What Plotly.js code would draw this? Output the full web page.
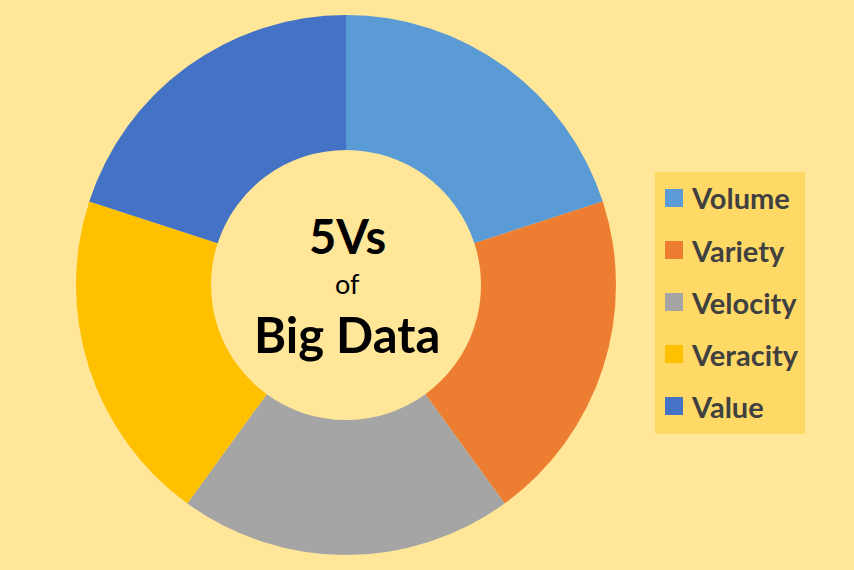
<!DOCTYPE html>
<html>
<head>
<meta charset="utf-8">
<script src="https://cdn.plot.ly/plotly-3.0.1.min.js"></script>
<style>html,body{margin:0;padding:0;background:#FFE699;}#chart{width:854px;height:570px;}</style>
</head>
<body>
<div id="chart"></div>
<script>
const labels = ["Volume", "Variety", "Velocity", "Veracity", "Value"];
const values = [20, 20, 20, 20, 20];
const colors = ["#5B9BD5", "#ED7D31", "#A5A5A5", "#FFC000", "#4472C4"];
const centerLines = ["5Vs", "of", "Big Data"];

const W = 854, H = 570;
const fontFam = "Lato, 'Open Sans', 'Liberation Sans', sans-serif";

const trace = {
  type: "pie",
  labels: labels,
  values: values,
  marker: {colors: colors, line: {width: 0}},
  hole: 0.5,
  sort: false,
  direction: "clockwise",
  rotation: 0,
  textinfo: "none",
  hoverinfo: "label",
  showlegend: false,
  domain: {x: [76 / W, 616 / W], y: [15 / H, 555 / H]}
};

// legend built from the label/colour arrays
const shapes = [{
  type: "rect", xref: "paper", yref: "paper",
  x0: 655 / W, x1: 805 / W, y0: 1 - 434 / H, y1: 1 - 172 / H,
  fillcolor: "#FFD966", line: {width: 0}, layer: "below"
}];
const annotations = [];
labels.forEach((lab, i) => {
  const cy = 198 + i * 52;
  shapes.push({
    type: "rect", xref: "paper", yref: "paper",
    x0: 665 / W, x1: 683 / W, y0: 1 - (cy + 9) / H, y1: 1 - (cy - 9) / H,
    fillcolor: colors[i], line: {width: 0}
  });
  annotations.push({
    xref: "paper", yref: "paper", x: 689 / W, y: 1 - cy / H,
    xanchor: "left", yanchor: "middle", showarrow: false,
    text: "<b>" + lab + "</b>", font: {family: fontFam, size: 29, color: "#404040"}
  });
});

const centerY = [236, 283, 334];
const centerSize = [47, 27, 49];
const centerBold = [true, false, true];
centerLines.forEach((t, i) => {
  annotations.push({
    xref: "paper", yref: "paper", x: 347 / W, y: 1 - centerY[i] / H,
    xanchor: "center", yanchor: "middle", showarrow: false,
    text: centerBold[i] ? "<b>" + t + "</b>" : t,
    font: {family: fontFam, size: centerSize[i], color: "#000000"}
  });
});

const layout = {
  width: W, height: H,
  margin: {l: 0, r: 0, t: 0, b: 0},
  paper_bgcolor: "#FFE699",
  plot_bgcolor: "#FFE699",
  showlegend: false,
  shapes: shapes,
  annotations: annotations
};

Plotly.newPlot("chart", [trace], layout, {displayModeBar: false, staticPlot: true});
</script>
</body>
</html>
